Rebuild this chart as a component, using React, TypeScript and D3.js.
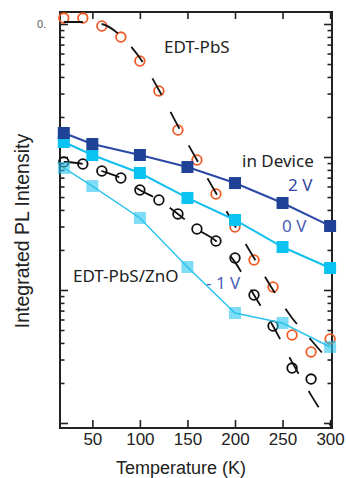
import React, { useEffect, useRef } from 'react';
import * as d3 from 'd3';

const W = 346;
const H = 478;

// Device measurements (squares)
const deviceTemps = [20, 50, 100, 150, 200, 250, 300];
const device2V = [0.01515, 0.01252, 0.01035, 0.00841, 0.00637, 0.00451, 0.00303];
const device0V = [0.01297, 0.01035, 0.00758, 0.00492, 0.00336, 0.002105, 0.001463];
const deviceM1V = [0.00827, 0.00605, 0.00348, 0.001489, 0.000671, 0.000565, 0.000373];

// Film measurements (open circles)
const filmTemps = [20, 40, 60, 80, 100, 120, 140, 160, 180, 200, 220, 240, 260, 280, 300];
const edtPbS = [0.1109, 0.1109, 0.0966, 0.0798, 0.0527, 0.03134, 0.01596, 0.00949, 0.00527, 0.002977, 0.001681, 0.001053, 0.000459, 0.000342, 0.000428];
const znoTemps = [20, 40, 60, 80, 100, 120, 140, 160, 180, 200, 220, 240, 260, 280];
const edtPbSZnO = [0.00917, 0.00886, 0.00785, 0.00695, 0.00565, 0.00475, 0.00373, 0.002874, 0.002336, 0.00174, 0.000917, 0.000536, 0.000259, 0.000214];

// Fits (dashed)
const edtPbSFit = [0.1035, 0.1035, 0.1, 0.0813, 0.0555, 0.0319, 0.0171, 0.00949, 0.00536, 0.00303, 0.00174, 0.001, 0.000616, 0.000421, 0.000287];
const edtPbSZnOFit = [0.00917, 0.00886, 0.00785, 0.00695, 0.00565, 0.00475, 0.00373, 0.002874, 0.002336, 0.00162, 0.000917, 0.000536, 0.000287, 0.000162, 0.0000966];

const xTicks = [50, 100, 150, 200, 250, 300];
const yMajor = [1e-4, 1e-3, 1e-2, 1e-1];
const yTopLabel = '0.';
const xTitle = 'Temperature (K)';
const yTitle = 'Integrated PL Intensity';

export default function App() {
  const ref = useRef<SVGSVGElement>(null);

  useEffect(() => {
    const svg = d3.select(ref.current);
    svg.selectAll('*').remove();

    const left = 60, right = 332, top = 12, bottom = 428;
    const x = d3.scaleLinear().domain([16, 302]).range([left, right]);
    const y = d3.scaleLog().domain([9.17e-5, 0.1231]).range([bottom, top]);

    const yMinor: number[] = [];
    [1e-5, 1e-4, 1e-3, 1e-2, 1e-1].forEach((d) => {
      for (let k = 2; k <= 9; k++) {
        const v = k * d;
        const [lo, hi] = y.domain();
        if (v > lo && v < hi) yMinor.push(v);
      }
    });

    const axisFont = '"Liberation Sans", Arial, sans-serif';
    const labelFont = '"Noto Sans", "Open Sans", sans-serif';

    const styleAxis = (g: any) => {
      g.select('.domain').remove();
      g.selectAll('line').attr('stroke', '#222').attr('stroke-width', 1.6);
      g.selectAll('text').attr('font-family', axisFont).attr('font-size', 17).attr('fill', '#222');
    };

    svg.append('g').attr('transform', `translate(0,${bottom})`)
      .call(d3.axisBottom(x).tickValues(xTicks).tickSizeInner(-8).tickSizeOuter(0).tickPadding(5).tickFormat(d3.format('d')))
      .call(styleAxis);
    svg.append('g').attr('transform', `translate(0,${top})`)
      .call(d3.axisTop(x).tickValues(xTicks).tickSizeInner(-7).tickSizeOuter(0).tickFormat(() => ''))
      .call(styleAxis);
    svg.append('g').attr('transform', `translate(${left},0)`)
      .call(d3.axisLeft(y).tickValues(yMajor).tickSizeInner(-8).tickSizeOuter(0).tickFormat(() => ''))
      .call(styleAxis);
    svg.append('g').attr('transform', `translate(${left},0)`)
      .call(d3.axisLeft(y).tickValues(yMinor).tickSizeInner(-4.5).tickSizeOuter(0).tickFormat(() => ''))
      .call(styleAxis);
    svg.append('g').attr('transform', `translate(${right},0)`)
      .call(d3.axisRight(y).tickValues(yMajor).tickSizeInner(-8).tickSizeOuter(0).tickFormat(() => ''))
      .call(styleAxis);
    svg.append('g').attr('transform', `translate(${right},0)`)
      .call(d3.axisRight(y).tickValues(yMinor).tickSizeInner(-4.5).tickSizeOuter(0).tickFormat(() => ''))
      .call(styleAxis);

    svg.append('rect').attr('x', left).attr('y', top).attr('width', right - left).attr('height', bottom - top)
      .attr('fill', 'none').attr('stroke', '#222').attr('stroke-width', 2);

    svg.append('text').attr('x', 37).attr('y', y(0.1) + 4).attr('font-family', axisFont).attr('font-size', 11)
      .attr('fill', '#555').text(yTopLabel);

    svg.append('text').attr('x', 181).attr('y', 474).attr('text-anchor', 'middle')
      .attr('font-family', axisFont).attr('font-size', 18).attr('fill', '#222').text(xTitle);
    svg.append('text').attr('transform', `translate(29,231) rotate(-90)`).attr('text-anchor', 'middle')
      .attr('font-family', axisFont).attr('font-size', 19.5).attr('fill', '#222').text(yTitle);

    const plot = svg.append('g');

    const orange = '#f15a24';
    plot.selectAll('circle.edt').data(filmTemps.map((t, i) => [t, edtPbS[i]])).join('circle')
      .attr('cx', (d) => x(d[0])).attr('cy', (d) => y(d[1])).attr('r', 4.8)
      .attr('fill', 'none').attr('stroke', orange).attr('stroke-width', 1.8);
    plot.append('g').selectAll('circle').data(znoTemps.map((t, i) => [t, edtPbSZnO[i]])).join('circle')
      .attr('cx', (d) => x(d[0])).attr('cy', (d) => y(d[1])).attr('r', 4.8)
      .attr('fill', 'none').attr('stroke', '#111').attr('stroke-width', 1.8);

    const fitLine = d3.line<number>().x((_, i) => x(filmTemps[i])).y((d) => y(d)).curve(d3.curveMonotoneX);
    plot.append('path').attr('d', fitLine(edtPbSFit)).attr('fill', 'none').attr('stroke', '#111')
      .attr('stroke-width', 1.8).attr('stroke-dasharray', '19 19');
    plot.append('path').attr('d', fitLine(edtPbSZnOFit)).attr('fill', 'none').attr('stroke', '#111')
      .attr('stroke-width', 1.8).attr('stroke-dasharray', '19 20');

    const addText = (tx: number, ty: number, s: string, fill: string) =>
      svg.append('text').attr('x', tx).attr('y', ty).attr('font-family', labelFont).attr('font-size', 17)
        .attr('fill', fill).text(s);
    addText(164, 53, 'EDT-PbS', '#222');
    addText(242, 167, 'in Device', '#222');
    addText(288, 191, '2 V', '#34449f');
    addText(282, 232, '0 V', '#4a5cb6');
    addText(206, 289, '- 1 V', '#4a5cb6');
    addText(73, 282, 'EDT-PbS/ZnO', '#222');

    const devLine = d3.line<number>().x((_, i) => x(deviceTemps[i])).y((d) => y(d));
    const series = [
      { v: deviceM1V, line: '#2ec4ee', lw: 1.5, fill: '#29c4ee', op: 0.6 },
      { v: device0V, line: '#12bfee', lw: 2, fill: '#0cc2f0', op: 1 },
      { v: device2V, line: '#2a48a6', lw: 2, fill: '#1f4196', op: 1 },
    ];
    const s = 12;
    series.forEach((ser) => {
      svg.append('path').attr('d', devLine(ser.v)).attr('fill', 'none').attr('stroke', ser.line).attr('stroke-width', ser.lw);
      svg.append('g').selectAll('rect').data(ser.v).join('rect')
        .attr('x', (d, i) => x(deviceTemps[i]) - s / 2).attr('y', (d) => y(d) - s / 2)
        .attr('width', s).attr('height', s).attr('fill', ser.fill).attr('fill-opacity', ser.op);
    });
  }, []);

  return <svg ref={ref} width={W} height={H} style={{ position: 'absolute', left: 0, top: 0, background: '#fff' }} />;
}
